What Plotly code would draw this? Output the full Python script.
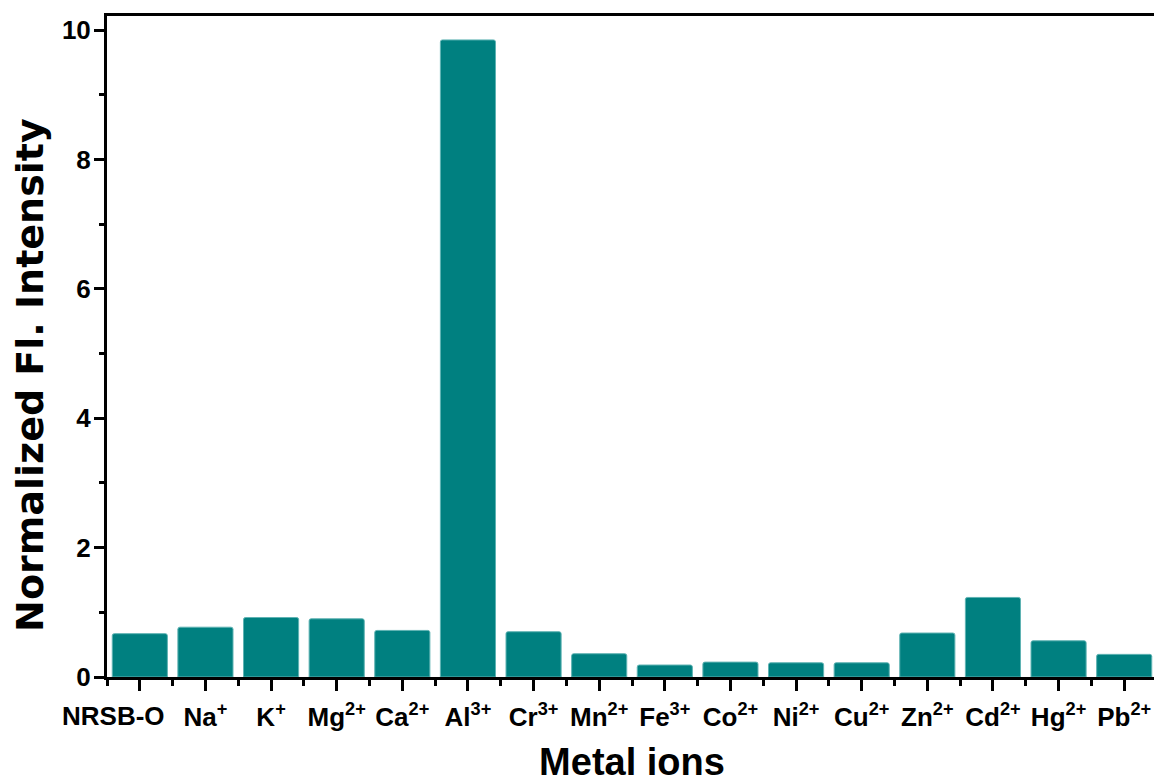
import plotly.graph_objects as go

categories = ["NRSB-O", "Na<sup>+</sup>", "K<sup>+</sup>", "Mg<sup>2+</sup>", "Ca<sup>2+</sup>",
              "Al<sup>3+</sup>", "Cr<sup>3+</sup>", "Mn<sup>2+</sup>", "Fe<sup>3+</sup>", "Co<sup>2+</sup>",
              "Ni<sup>2+</sup>", "Cu<sup>2+</sup>", "Zn<sup>2+</sup>", "Cd<sup>2+</sup>", "Hg<sup>2+</sup>",
              "Pb<sup>2+</sup>"]
values = [0.67, 0.77, 0.92, 0.90, 0.72, 9.85, 0.70, 0.36, 0.185, 0.23, 0.22, 0.22, 0.68, 1.23, 0.56, 0.35]
y_ticks = [0, 2, 4, 6, 8, 10]

positions = list(range(len(categories)))

tickfam = "Liberation Sans, Arial, sans-serif"
titlefam = "DejaVu Sans, Verdana, sans-serif"

fig = go.Figure(go.Bar(
    x=positions, y=values,
    marker=dict(color="#008080", line=dict(color="#5fb3b3", width=1), cornerradius=2),
    width=0.84,
))

# page has an 8px body margin: figure is offset by 8px
fig.update_layout(
    width=1154, height=775,
    margin=dict(l=99, r=5, t=8, b=106),
    plot_bgcolor="white", paper_bgcolor="white",
    showlegend=False,
)

# first label (long) drawn as annotation, shifted left like the reference
ticktext = [""] + categories[1:]
fig.add_annotation(
    x=positions[0], xref="x", y=0, yref="paper", yanchor="top", xanchor="center",
    xshift=-26, yshift=-22, showarrow=False, text=categories[0],
    font=dict(family=tickfam, size=26, color="black", weight=700),
)

fig.add_annotation(
    x=0, xref="paper", xanchor="right", xshift=-53,
    y=0.457, yref="paper", yanchor="middle",
    textangle=-90, showarrow=False, text="Normalized Fl. Intensity",
    font=dict(family=titlefam, size=38, color="black", weight=700),
)

fig.update_xaxes(
    range=[-0.5, 15.5], automargin=False,
    tickmode="array", tickvals=positions, ticktext=ticktext, tickangle=0,
    ticks="outside", ticklen=11, tickwidth=3, tickcolor="black",
    minor=dict(ticks="outside", tick0=0.5, dtick=1, ticklen=6, tickwidth=3, tickcolor="black"),
    showline=True, linewidth=3, linecolor="black", mirror=True,
    showgrid=False, zeroline=False, ticklabelstandoff=4,
    tickfont=dict(family=tickfam, size=26, color="black", weight=700),
    title=dict(text="Metal ions", font=dict(family=tickfam, size=38, color="black", weight=700), standoff=24),
)

fig.update_yaxes(
    range=[0, 10.22], automargin=False,
    tickmode="array", tickvals=y_ticks,
    ticks="outside", ticklen=10, tickwidth=3, tickcolor="black",
    minor=dict(ticks="outside", tick0=1, dtick=2, ticklen=5, tickwidth=3, tickcolor="black"),
    showline=True, linewidth=3, linecolor="black", mirror=True,
    showgrid=False, zeroline=False, ticklabelstandoff=-2,
    tickfont=dict(family=tickfam, size=26, color="black", weight=700),
)

fig.write_html("out.html")
